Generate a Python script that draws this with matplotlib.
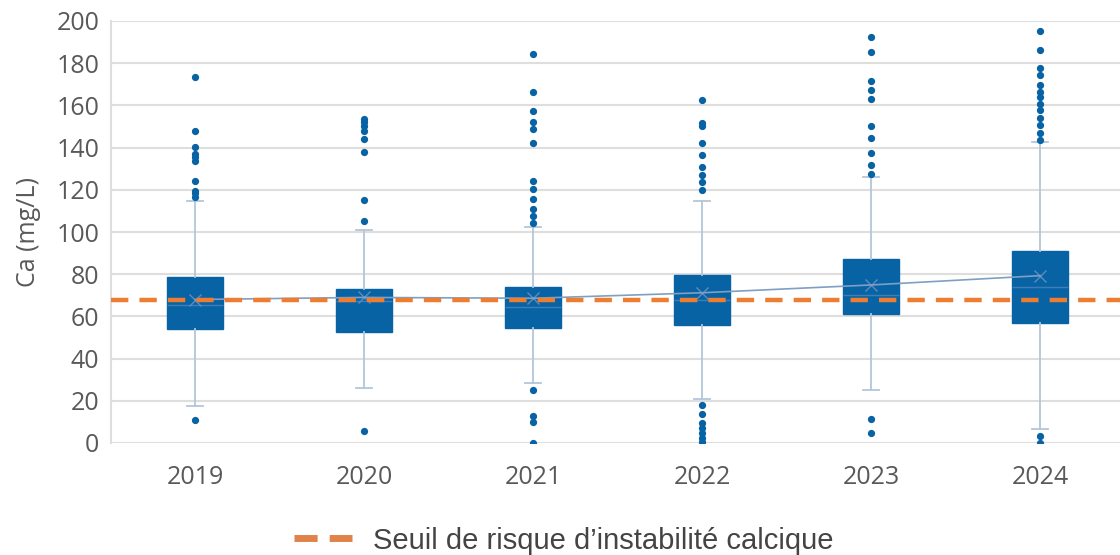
import matplotlib
matplotlib.use("Agg")
import matplotlib.pyplot as plt
from matplotlib.lines import Line2D

years = ["2019", "2020", "2021", "2022", "2023", "2024"]
q1 = [54.2, 52.6, 54.4, 55.9, 61.3, 56.9]
median = [65.4, 67.5, 64.6, 68.0, 70.0, 73.8]
q3 = [78.5, 73.1, 74.1, 79.8, 87.2, 91.0]
whisker_low = [17.4, 25.9, 28.3, 20.7, 25.1, 6.6]
whisker_high = [114.7, 100.8, 102.2, 114.5, 126.2, 142.7]
means = [68.0, 69.0, 68.6, 71.2, 74.9, 79.3]
outliers = [
    [173.6, 147.9, 140.3, 137.0, 135.4, 133.6, 124.2, 119.6, 118.3, 116.7, 11.0],
    [153.7, 152.0, 150.2, 147.9, 144.1, 138.1, 115.2, 105.4, 5.7],
    [184.4, 166.5, 157.2, 152.1, 149.0, 142.1, 124.2, 120.2, 115.6, 110.9, 107.6, 104.4,
     25.1, 12.6, 10.0, 0.0],
    [162.6, 151.7, 150.2, 142.3, 136.5, 130.6, 126.9, 123.5, 119.8,
     18.0, 13.9, 9.6, 7.0, 4.6, 2.5, 0.5],
    [192.3, 185.2, 171.7, 167.3, 163.2, 150.4, 144.7, 137.4, 131.9, 127.5, 11.4, 4.6],
    [195.4, 186.1, 177.6, 174.3, 169.8, 166.4, 163.8, 160.8, 157.8, 153.9, 150.6,
     147.1, 143.6, 3.5, 0.0],
]
threshold = 68.0
threshold_label = "Seuil de risque d\u2019instabilit\u00e9 calcique"
y_ticks = [0, 20, 40, 60, 80, 100, 120, 140, 160, 180, 200]
y_label = "Ca (mg/L)"

BOX = "#0863a5"
WHISK = "#b3c6db"
ORANGE = "#ec7d31"
GRID = "#dedede"
TXT = "#595959"

fig = plt.figure(figsize=(11.2, 5.55), dpi=100)
ax = fig.add_axes([110.5 / 1120, 112 / 555, (1120 - 110.5) / 1120, 422 / 555])

stats = []
for i in range(len(years)):
    stats.append(dict(q1=q1[i], med=median[i], q3=q3[i], whislo=whisker_low[i],
                      whishi=whisker_high[i], mean=means[i], fliers=outliers[i],
                      label=years[i]))
pos = list(range(len(years)))
ax.bxp(stats, positions=pos, widths=0.335, capwidths=0.1, patch_artist=True,
       showmeans=True, meanline=False,
       boxprops=dict(facecolor=BOX, edgecolor=BOX, linewidth=1),
       medianprops=dict(color="#3f7db5", linewidth=1),
       whiskerprops=dict(color=WHISK, linewidth=1.3),
       capprops=dict(color=WHISK, linewidth=1.3),
       meanprops=dict(marker="x", markeredgecolor="#5d8bbd", markersize=9, markeredgewidth=1),
       flierprops=dict(marker="o", markerfacecolor=BOX, markeredgecolor=BOX,
                       markersize=4.2, linestyle="none"),
       zorder=3)
ax.plot(pos, means, color="#7f9fc4", linewidth=1.2, zorder=4)
ax.axhline(threshold, color=ORANGE, linewidth=3.2, linestyle=(0, (3.9, 2.5)), zorder=5)

ax.set_xlim(-0.5, 5.5 - 4.5 / 169)
ax.set_ylim(0, 200)
ax.set_yticks(y_ticks)
ax.set_xticks(pos)
ax.set_xticklabels(years)
ax.yaxis.grid(True, color=GRID, linewidth=1.5, zorder=0)
ax.set_axisbelow(True)
for s in ["top", "right", "bottom"]:
    ax.spines[s].set_visible(False)
ax.spines["left"].set_color(GRID)
ax.spines["left"].set_linewidth(1.5)
ax.tick_params(axis="both", length=0, colors=TXT, labelsize=18)
ax.tick_params(axis="y", pad=8)
ax.tick_params(axis="x", pad=16)
for lab in ax.get_xticklabels() + ax.get_yticklabels():
    lab.set_fontfamily("Open Sans")
ax.set_ylabel(y_label, fontsize=18, color=TXT, fontfamily="Open Sans", labelpad=11)

handle = Line2D([0], [0], color="#e0834a", linewidth=5, linestyle=(0, (3.33, 1.74)))
fig.legend([handle], [threshold_label], loc="center", bbox_to_anchor=(0.503, 0.026),
           frameon=False, handlelength=1.99, handletextpad=0.72,
           prop=dict(family="Liberation Sans", size=21), labelcolor="#444444")

fig.savefig("out.png", dpi=100)
